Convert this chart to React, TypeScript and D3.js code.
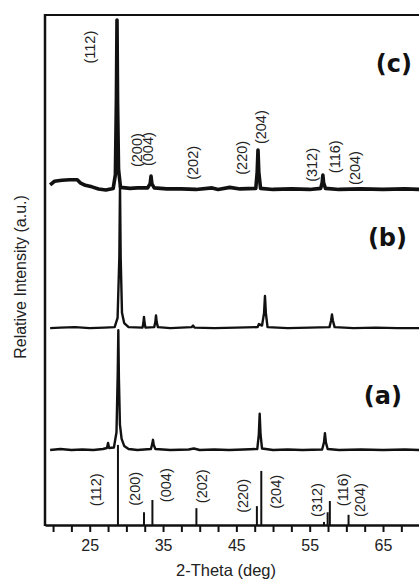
import React, { useEffect, useRef } from 'react';
import * as d3 from 'd3';

// 2-theta (deg) / relative intensity (a.u.)
const patternA: [number, number][] = [
  [19.6, 0], [21, 0.2], [22.5, 0], [24, 0.1], [25.5, 0], [26.8, 0.2], [27.35, 0.4], [27.5, 1.4], [27.65, 0.4],
  [28.3, 0.5], [28.65, 3.5], [28.82, 15], [28.9, 23.5], [28.98, 14], [29.12, 5], [29.35, 2.2], [29.7, 0.8],
  [30.3, 0.2], [31.5, 0], [33.35, 0.2], [33.53, 1.2], [33.63, 2.0], [33.73, 1.0], [33.95, 0.2], [36, 0],
  [38.5, 0.1], [39.2, 0.3], [40, 0], [42, 0.1], [44, 0], [46, 0.1], [47.85, 0.2], [48.06, 3], [48.18, 7.1],
  [48.3, 3], [48.5, 0.3], [50, 0], [52, 0.1], [54, 0], [56.7, 0.1], [56.95, 1.5], [57.08, 3.3], [57.21, 1.5],
  [57.45, 0.2], [59, 0], [62, 0.1], [65, 0], [68, 0.1], [70, 0],
];

const patternB: [number, number][] = [
  [19.6, 0], [21, 0.1], [23, 0.2], [25, 0], [27, 0.1], [28.4, 0.2], [28.8, 2], [29.04, 14], [29.13, 28],
  [29.22, 14], [29.4, 3], [29.7, 1.0], [30.3, 0.2], [32.2, 0.1], [32.32, 1], [32.4, 2.2], [32.48, 1],
  [32.6, 0.1], [33.8, 0.2], [33.95, 1.2], [34.04, 2.5], [34.13, 1.2], [34.3, 0.2], [36, 0], [38.9, 0.2],
  [39.1, 0.5], [39.3, 0.1], [42, 0], [45, 0.1], [47.9, 0.2], [48.08, 0.8], [48.5, 0.5], [48.78, 3],
  [48.9, 6.3], [49.02, 3], [49.25, 0.2], [52, 0], [55, 0.1], [57.7, 0.2], [57.92, 1.5], [58.04, 2.7],
  [58.16, 1.5], [58.4, 0.2], [61, 0], [64, 0.1], [67, 0], [70, 0],
];

const patternC: [number, number][] = [
  [19.6, 1.0], [20.2, 1.7], [21.2, 1.9], [22.3, 2.0], [23.3, 2.0], [23.7, 1.4], [24.4, 0.9], [25.3, 0.6],
  [26.2, 0.2], [27.2, 0], [28.2, 0.3], [28.5, 3], [28.64, 18], [28.72, 33.3], [28.8, 17], [28.93, 4],
  [29.2, 0.5], [30.5, 0.3], [31.5, 0.4], [32.9, 0.4], [33.24, 1.2], [33.36, 2.7], [33.48, 1.2], [33.8, 0.4],
  [35.5, 0.2], [37.5, 0.2], [39.5, 0.1], [41.7, 0.4], [42.5, 0.1], [44.1, 0.5], [45.5, 0.2], [47.65, 0.3],
  [47.84, 3.5], [47.95, 7.8], [48.06, 3.5], [48.3, 0.3], [50, 0.1], [52.5, 0.2], [55, 0.1], [56.5, 0.3],
  [56.7, 1.4], [56.8, 2.9], [56.9, 1.4], [57.15, 0.3], [59, 0.1], [62, 0.2], [65, 0.1], [68, 0.2], [70, 0.1],
];

const patternOffsets = [14.7, 38.6, 65.7];
const patternLabels = ['(a)', '(b)', '(c)'];

// reference stick pattern
const stickTheta = [28.85, 32.4, 33.55, 39.55, 47.8, 48.4, 56.95, 57.45, 57.75, 60.3];
const stickHeight = [15.7, 2.5, 4.9, 3.3, 3.7, 10.6, 0.6, 2.5, 4.7, 2.0];

const hklNames = ['(112)', '(200)', '(004)', '(202)', '(220)', '(204)', '(312)', '(116)', '(204)'];
const topLabelTheta = [25.0, 31.37, 32.95, 39.09, 45.69, 48.41, 55.24, 58.42, 61.15];
const topLabelY = [93.7, 73.5, 73.7, 71.0, 72.0, 78.0, 70.6, 72.2, 70.0];
const bottomLabelTheta = [25.91, 31.14, 35.33, 40.28, 45.83, 50.37, 55.92, 59.6, 61.84];
const bottomLabelY = [6.9, 7.1, 7.8, 7.6, 5.7, 6.5, 4.9, 6.9, 4.9];

const xTicks = d3.range(20, 70.1, 2.5);
const xTickLabels = [25, 35, 45, 55, 65];

const App = () => {
  const ref = useRef<SVGSVGElement | null>(null);

  useEffect(() => {
    const svg = d3.select(ref.current);
    svg.selectAll('*').remove();

    const left = 45;
    const top = 15;
    const bottom = 525;

    const x = d3.scaleLinear().domain([18.9, 71]).range([left, 427]);
    const y = d3.scaleLinear().domain([0, 100]).range([bottom, top]);
    const font = '"Liberation Sans", Arial, sans-serif';

    // patterns
    const patterns = [patternA, patternB, patternC];
    const widths = [2.4, 2.4, 3.6];
    patterns.forEach((pts, i) => {
      const line = d3.line<[number, number]>()
        .x(d => x(d[0]))
        .y(d => y(d[1] + patternOffsets[i]));
      svg.append('path')
        .attr('d', line(pts) as string)
        .attr('fill', 'none')
        .attr('stroke', '#111')
        .attr('stroke-width', widths[i])
        .attr('stroke-linejoin', 'round');
    });

    // sticks
    svg.selectAll('.stick')
      .data(stickTheta)
      .enter()
      .append('line')
      .attr('x1', d => x(d))
      .attr('x2', d => x(d))
      .attr('y1', y(0))
      .attr('y2', (d, i) => y(stickHeight[i]))
      .attr('stroke', '#111')
      .attr('stroke-width', 2);

    // frame
    svg.append('line')
      .attr('x1', left).attr('x2', 427).attr('y1', top).attr('y2', top)
      .attr('stroke', '#111').attr('stroke-width', 2.2);
    svg.append('line')
      .attr('x1', left).attr('x2', left).attr('y1', top - 1).attr('y2', bottom + 1)
      .attr('stroke', '#111').attr('stroke-width', 2.5);

    const axis = svg.append('g')
      .attr('transform', `translate(0,${bottom})`)
      .call(d3.axisBottom(x)
        .tickValues(xTicks)
        .tickSize(7)
        .tickSizeOuter(0)
        .tickPadding(7.5)
        .tickFormat(d => (xTickLabels.includes(+d) ? String(d) : '')));
    axis.select('.domain').attr('stroke', '#111').attr('stroke-width', 2.5);
    axis.selectAll('.tick line').attr('stroke', '#111').attr('stroke-width', 2);
    axis.selectAll('.tick text')
      .attr('font-family', font)
      .attr('font-size', 16)
      .attr('fill', '#222');

    svg.append('text')
      .attr('x', 226).attr('y', 576)
      .attr('text-anchor', 'middle')
      .attr('font-family', font)
      .attr('font-size', 16.5)
      .attr('fill', '#222')
      .text('2-Theta (deg)');

    svg.append('text')
      .attr('transform', `translate(26,${277}) rotate(-90)`)
      .attr('text-anchor', 'middle')
      .attr('font-family', font)
      .attr('font-size', 16)
      .attr('fill', '#222')
      .text('Relative Intensity (a.u.)');

    // hkl labels
    const addLabels = (thetas: number[], ys: number[]) => {
      thetas.forEach((t, i) => {
        svg.append('text')
          .attr('transform', `translate(${x(t)},${y(ys[i])}) rotate(-90)`)
          .attr('text-anchor', 'middle')
          .attr('dy', '0.35em')
          .attr('font-family', font)
          .attr('font-size', 14.5)
          .attr('fill', '#222')
          .text(hklNames[i]);
      });
    };
    addLabels(topLabelTheta, topLabelY);
    addLabels(bottomLabelTheta, bottomLabelY);

    // panel labels
    const panelX = [402, 407, 412];
    const panelY = [404, 246, 72];
    patternLabels.forEach((t, i) => {
      svg.append('text')
        .attr('x', panelX[i]).attr('y', panelY[i])
        .attr('text-anchor', 'end')
        .attr('font-family', '"DejaVu Sans", sans-serif')
        .attr('font-weight', 'bold')
        .attr('font-size', 24)
        .attr('fill', '#111')
        .text(t);
    });
  }, []);

  return (
    <svg
      ref={ref}
      width={419}
      height={582}
      style={{ position: 'absolute', left: 0, top: 0, background: '#fff', display: 'block' }}
    />
  );
};

export default App;
